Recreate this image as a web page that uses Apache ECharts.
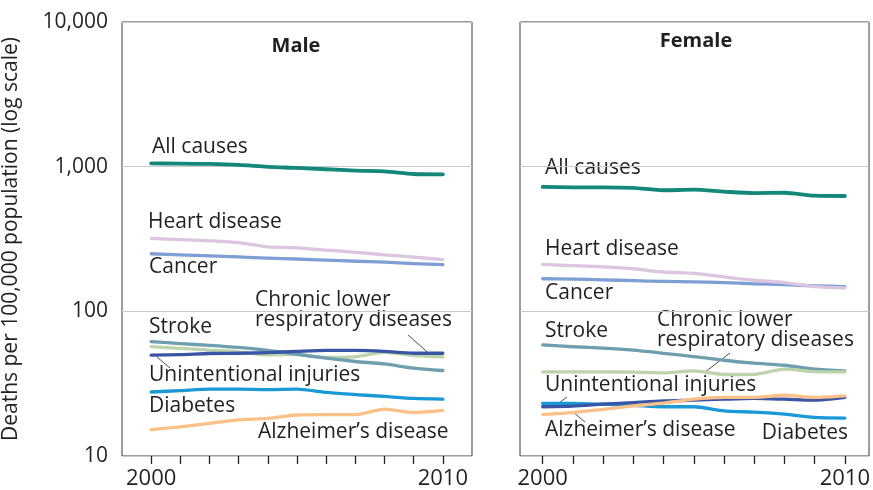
<!DOCTYPE html>
<html>
<head>
<meta charset="utf-8">
<script src="https://cdn.jsdelivr.net/npm/echarts@6/dist/echarts.min.js"></script>
<style>
  html, body { margin: 0; padding: 0; background: #fff; }
  #chart { width: 873px; height: 490px; }
</style>
</head>
<body>
<div id="chart"></div>
<script>
// years on the x axis
var years = [2000, 2001, 2002, 2003, 2004, 2005, 2006, 2007, 2008, 2009, 2010];
var yearLabels = [2000, 2010];
var yTicks = [10, 100, 1000, 10000];

// male, deaths per 100,000
var maleAll      = [1055, 1049, 1044, 1028, 997, 981, 960, 940, 929, 890, 885];
var maleHeart    = [319, 313, 307, 298, 279, 275, 265, 256, 246, 237, 228];
var maleCancer   = [250, 246, 242, 238, 233, 230, 226, 222, 219, 214, 210];
var maleStroke   = [61.8, 59.8, 58.2, 56.3, 53.8, 50.5, 47.4, 45.0, 43.3, 40.5, 39.0];
var maleInjury   = [49.8, 50.2, 51.1, 51.3, 51.8, 52.9, 53.8, 53.8, 52.9, 51.3, 51.3];
var maleClrd     = [57, 55.5, 54, 52.5, 50, 50.5, 48, 48.5, 52, 49.5, 48.5];
var maleDiabetes = [27.7, 28.3, 29.0, 29.0, 28.8, 29.0, 27.5, 26.6, 25.8, 25.0, 24.7];
var maleAlz      = [15.2, 15.9, 16.8, 17.8, 18.2, 19.2, 19.3, 19.3, 21.1, 20.0, 20.7];

// female, deaths per 100,000
var femaleAll      = [724, 720, 720, 714, 687, 693, 672, 656, 660, 630, 627];
var femaleHeart    = [211, 207, 203, 197, 187, 183, 173, 164, 158, 148, 145];
var femaleCancer   = [168, 167, 165, 163, 161, 160, 158, 155, 153, 150, 148];
var femaleStroke   = [58.6, 56.9, 55.7, 53.9, 51.3, 48.7, 45.9, 43.8, 42.4, 39.8, 38.8];
var femaleClrd     = [38.1, 38.1, 38.1, 38.0, 37.6, 38.8, 36.6, 36.7, 39.8, 38.3, 38.1];
var femaleInjury   = [21.9, 22.1, 22.8, 23.4, 24.0, 24.3, 24.7, 25.0, 24.7, 24.3, 25.4];
var femaleAlz      = [19.3, 20.0, 21.0, 22.2, 23.2, 24.7, 25.4, 25.4, 26.3, 25.4, 26.0];
var femaleDiabetes = [23.1, 23.1, 22.8, 22.4, 21.9, 21.9, 20.5, 20.1, 19.5, 18.5, 18.3];

var colors = {
    all: '#12877a', heart: '#dcc6df', cancer: '#7e9ed6', stroke: '#6e9fae',
    injury: '#3b55a6', clrd: '#bdd3ab', diabetes: '#1b98d6', alz: '#fcc088'
};

var FONT = '"Open Sans", sans-serif';
var TXT = '#231f20';

function pairs(vals){
    var out = [];
    for (var i = 0; i < years.length; i++) out.push([years[i], vals[i]]);
    return out;
}

function line(name, vals, color, idx, w){
    return {
        name: name, type: 'line', xAxisIndex: idx, yAxisIndex: idx,
        data: pairs(vals), symbol: 'none', smooth: 0.25,
        lineStyle: { color: color, width: w || 3.3, cap: 'round', join: 'round' },
        silent: true, animation: false
    };
}

function xAx(idx, min, max){
    return {
        type: 'value', gridIndex: idx, min: min, max: max,
        axisLine: { show: false },
        axisTick: { show: true, length: 8, customValues: years, lineStyle: { color: '#222', width: 1.3 } },
        axisLabel: {
            customValues: yearLabels, fontSize: 22, color: TXT, fontFamily: FONT, margin: 12,
            formatter: function (v) { return String(v); }
        },
        splitLine: { show: false }
    };
}

function yAx(idx, showLabel){
    var ax = {
        type: 'log', logBase: 10, gridIndex: idx, min: 10, max: 10000,
        axisLine: { show: false },
        axisTick: { show: false },
        axisLabel: {
            show: showLabel, fontSize: 21, color: TXT, fontFamily: FONT, margin: 14,
            formatter: function (v) { return Number(v).toLocaleString('en-US'); }
        },
        splitLine: { show: true, lineStyle: { color: '#c9c9c9', width: 1 } }
    };
    if (showLabel) {
        ax.name = 'Deaths per 100,000 population (log scale)';
        ax.nameLocation = 'middle';
        ax.nameGap = 100;
        ax.nameTextStyle = { fontSize: 21, color: TXT, fontFamily: FONT };
    }
    return ax;
}

function txt(s, x, y, opts){
    opts = opts || {};
    return {
        type: 'text', silent: true,
        style: {
            text: s, x: x, y: y, fill: TXT,
            font: (opts.bold ? 'bold ' : '') + (opts.size || 21) + 'px ' + FONT,
            textAlign: opts.align || 'left', textVerticalAlign: 'middle'
        }
    };
}

function leader(x1, y1, x2, y2){
    return { type: 'line', silent: true, shape: { x1: x1, y1: y1, x2: x2, y2: y2 },
        style: { stroke: '#222', lineWidth: 0.8 } };
}

var chart = echarts.init(document.getElementById('chart'));

var option = {
    animation: false,
    grid: [
        { left: 120, top: 22, width: 352, height: 435, show: true, borderColor: '#3a3a3a', borderWidth: 1 },
        { left: 520, top: 22, width: 352, height: 435, show: true, borderColor: '#3a3a3a', borderWidth: 1 }
    ],
    xAxis: [ xAx(0, 1999, 2011), xAx(1, 1999.25, 2010.8) ],
    yAxis: [ yAx(0, true), yAx(1, false) ],
    series: [
        line('All causes', maleAll, colors.all, 0, 3.8),
        line('Heart disease', maleHeart, colors.heart, 0),
        line('Cancer', maleCancer, colors.cancer, 0),
        line('Chronic lower respiratory diseases', maleClrd, colors.clrd, 0),
        line('Stroke', maleStroke, colors.stroke, 0),
        line('Unintentional injuries', maleInjury, colors.injury, 0),
        line('Diabetes', maleDiabetes, colors.diabetes, 0),
        line("Alzheimer's disease", maleAlz, colors.alz, 0),

        line('All causes', femaleAll, colors.all, 1, 3.8),
        line('Cancer', femaleCancer, colors.cancer, 1),
        line('Heart disease', femaleHeart, colors.heart, 1),
        line('Stroke', femaleStroke, colors.stroke, 1),
        line('Chronic lower respiratory diseases', femaleClrd, colors.clrd, 1),
        line('Diabetes', femaleDiabetes, colors.diabetes, 1),
        line('Unintentional injuries', femaleInjury, colors.injury, 1),
        line("Alzheimer's disease", femaleAlz, colors.alz, 1)
    ],
    graphic: [
        txt('Male', 296, 46, { bold: true, size: 20, align: 'center' }),
        txt('Female', 696, 41, { bold: true, size: 20, align: 'center' }),

        // male labels
        txt('All causes', 152, 147),
        txt('Heart disease', 148, 222),
        txt('Cancer', 149, 267),
        txt('Chronic lower', 255, 300),
        txt('respiratory diseases', 255, 320),
        txt('Stroke', 149, 327),
        txt('Unintentional injuries', 149, 375),
        txt('Diabetes', 149, 406),
        txt('Alzheimer\u2019s disease', 258, 432),
        leader(157, 357, 170, 368),
        leader(408, 335, 433, 357),

        // female labels
        txt('All causes', 545, 168),
        txt('Heart disease', 545, 249),
        txt('Cancer', 545, 293),
        txt('Chronic lower', 657, 320),
        txt('respiratory diseases', 657, 340),
        txt('Stroke', 545, 331),
        txt('Unintentional injuries', 545, 385),
        txt('Alzheimer\u2019s disease', 545, 430),
        txt('Diabetes', 848, 433, { align: 'right' }),
        leader(730, 353, 705, 372),
        leader(567, 397, 552, 408),
        leader(573, 412, 585, 422)
    ]
};

chart.setOption(option);
</script>
</body>
</html>
